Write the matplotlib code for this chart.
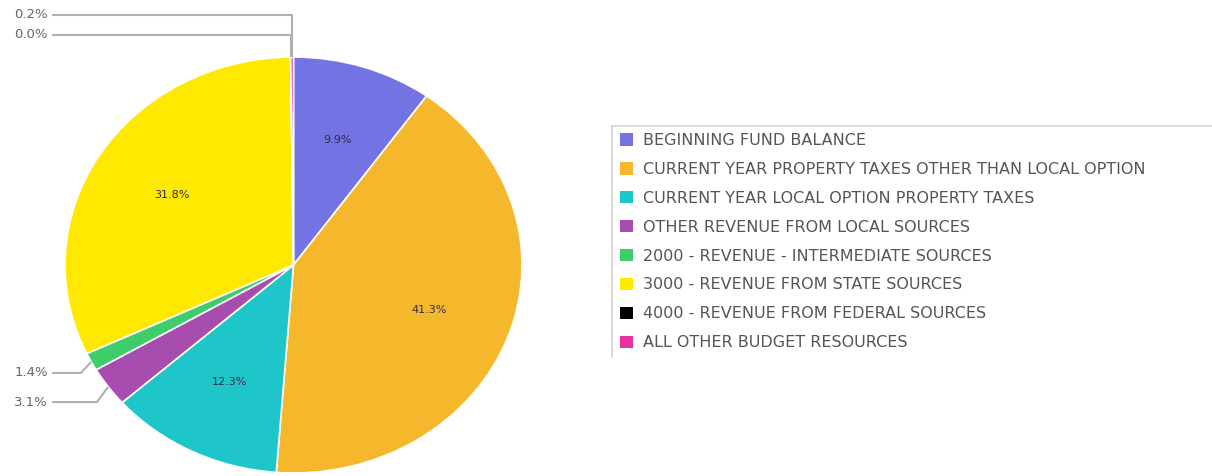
import numpy as np
import matplotlib
matplotlib.use("Agg")
import matplotlib.pyplot as plt
from matplotlib.lines import Line2D

# -----------------------------
# Budget resources by source (%)
# -----------------------------
categories = [
    "BEGINNING FUND BALANCE",
    "CURRENT YEAR PROPERTY TAXES OTHER THAN LOCAL OPTION",
    "CURRENT YEAR LOCAL OPTION PROPERTY TAXES",
    "OTHER REVENUE FROM LOCAL SOURCES",
    "2000 - REVENUE - INTERMEDIATE SOURCES",
    "3000 - REVENUE FROM STATE SOURCES",
    "4000 - REVENUE FROM FEDERAL SOURCES",
    "ALL OTHER BUDGET RESOURCES",
]
shares = [9.9, 41.3, 12.3, 3.1, 1.4, 31.8, 0.0, 0.2]
colors = ["#7373e3", "#f5b82c", "#1ec6c9", "#a74db0", "#3fcc6b",
          "#ffe900", "#000000", "#e8309f"]

plt.rcParams["font.family"] = ["DejaVu Sans"]

fig = plt.figure(figsize=(12.12, 4.76), dpi=100)

# pie area (slightly wider than tall)
ax = fig.add_axes([65 / 1212, 3 / 476, 457 / 1212, 416 / 476])


def inner_label(pct):
    return f"{pct:.1f}%" if pct >= 5 else ""


wedges, texts, autotexts = ax.pie(
    shares, colors=colors, startangle=90, counterclock=False,
    autopct=inner_label, pctdistance=0.63,
    wedgeprops=dict(edgecolor="white", linewidth=1.2),
    textprops=dict(fontsize=8, color="#2e2e44"),
)
ax.set_xlim(-1, 1)
ax.set_ylim(-1, 1)
ax.set_aspect("auto")

# mid angle of each slice
cum = np.cumsum([0] + shares)
mid_angles = np.deg2rad(90 - (cum[:-1] + cum[1:]) / 2 * 3.6)

line_kw = dict(color="#b0b0b0", lw=1.5, clip_on=False, solid_capstyle="butt")
label_kw = dict(fontsize=9.5, color="#666666", ha="right", va="center", clip_on=False)

# small slices near the top: vertical then horizontal leader
for i, y_lab in [(7, 1.202), (6, 1.106)]:
    x0, y0 = np.cos(mid_angles[i]), np.sin(mid_angles[i])
    ax.plot([x0, x0, -1.057], [y0, y_lab, y_lab], **line_kw)
    ax.text(-1.075, y_lab, f"{shares[i]:.1f}%", **label_kw)

# small slices on the lower left: short diagonal then horizontal
for i, y_lab, x_bend in [(4, -0.519, -0.93), (3, -0.659, -0.86)]:
    x0, y0 = np.cos(mid_angles[i]), np.sin(mid_angles[i])
    ax.plot([x0, x_bend, -1.057], [y0, y_lab, y_lab], **line_kw)
    ax.text(-1.075, y_lab, f"{shares[i]:.1f}%", **label_kw)

leg = fig.legend(
    wedges, categories, loc="upper left",
    bbox_to_anchor=(620 / 1212, 1 - 133 / 476),
    frameon=False, fontsize=11.5, labelcolor="#555555",
    handlelength=0.82, handleheight=0.82, handletextpad=0.65,
    labelspacing=0.87, borderpad=0, borderaxespad=0,
)
for h in leg.legend_handles:
    h.set_edgecolor("none")

# open frame around the legend: top and left edges only
fx = lambda px: px / 1212
fy = lambda py: 1 - py / 476
fig.add_artist(Line2D([fx(612), fx(1212)], [fy(126), fy(126)], color="#d4d4d4", lw=1.2))
fig.add_artist(Line2D([fx(612), fx(612)], [fy(126), fy(357)], color="#d4d4d4", lw=1.2))

fig.savefig("out.png", dpi=100)
